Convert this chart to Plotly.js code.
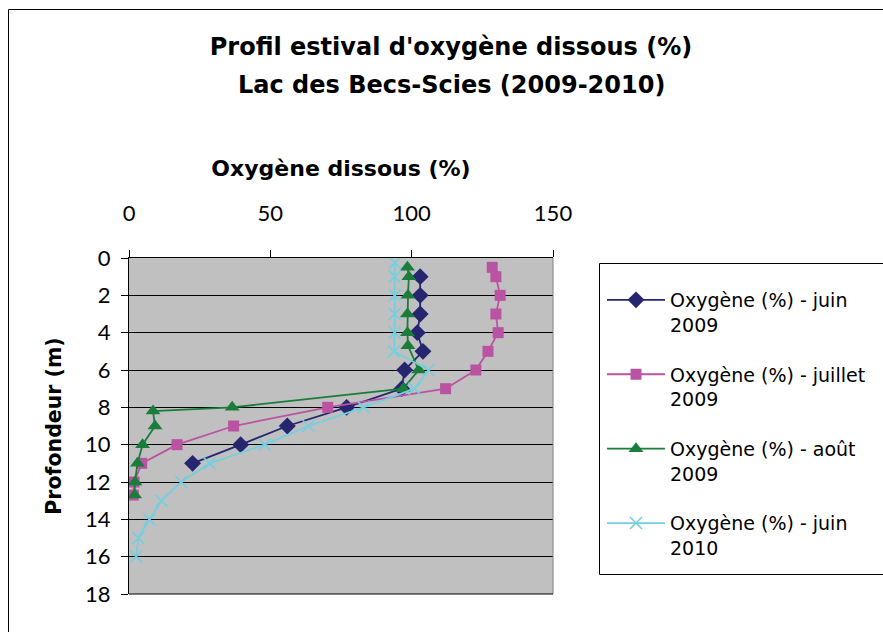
<!DOCTYPE html>
<html>
<head>
<meta charset="utf-8">
<script src="https://cdn.plot.ly/plotly-3.0.1.min.js"></script>
<style>html,body{margin:0;padding:0;background:#fff;}#chart{width:883px;height:632px;}</style>
</head>
<body>
<div id="chart"></div>
<script>
// Data
const depthJuin2009 = [1, 2, 3, 4, 5, 6, 7, 8, 9, 10, 11];
const o2Juin2009 = [103, 103, 103, 102, 104, 97.5, 96.5, 77, 56, 39.5, 22.5];

const depthJuillet2009 = [0.5, 1, 2, 3, 4, 5, 6, 7, 8, 9, 10, 11, 12, 12.7];
const o2Juillet2009 = [128.5, 129.8, 131.3, 129.8, 130.6, 127, 122.7, 112, 70.3, 37, 17, 4.5, 1.8, 1.5];

const depthAout2009 = [0.5, 1, 2, 3, 4, 4.7, 6, 7, 8, 8.2, 9, 10, 11, 12, 12.7];
const o2Aout2009 = [98.5, 99, 98.7, 98.5, 98.5, 98.7, 102.5, 97, 36.5, 8.5, 9.2, 4.8, 3, 2.1, 2];

const depthJuin2010 = [0.25, 1, 2, 3, 4, 5, 6, 7, 8, 9, 10, 11, 12, 13, 14, 15, 16];
const o2Juin2010 = [94, 94, 94, 94, 94, 93.7, 106, 101, 83, 63.5, 48, 28.5, 18.5, 11.5, 7.2, 3.3, 2.5];

const seriesNames = [
  "Oxygène (%) - juin<br>2009",
  "Oxygène (%) - juillet<br>2009",
  "Oxygène (%) - août<br>2009",
  "Oxygène (%) - juin<br>2010"
];
const titleLines = ["Profil estival d'oxygène dissous (%)", "Lac des Becs-Scies (2009-2010)"];
const xTicks = [0, 50, 100, 150];
const yTicks = [0, 2, 4, 6, 8, 10, 12, 14, 16, 18];

const FONT = "'DejaVu Sans', sans-serif";
const TICKFONT = "Lato, 'DejaVu Sans', sans-serif";
const colors = ["#25266f", "#b953a2", "#1a7d3b", "#74cfe0"];

const traces = [
  {x: o2Juin2009, y: depthJuin2009, name: seriesNames[0], legendgroup: "a",
   mode: "lines+markers", line: {color: colors[0], width: 1.8},
   marker: {symbol: "diamond", size: 13, color: colors[0]}},
  {x: o2Juillet2009, y: depthJuillet2009, name: seriesNames[1], legendgroup: "b",
   mode: "lines+markers", line: {color: colors[1], width: 1.8},
   marker: {symbol: "square", size: 11, color: colors[1]}},
  {x: o2Aout2009, y: depthAout2009, name: seriesNames[2], legendgroup: "c",
   mode: "lines+markers", line: {color: colors[2], width: 1.8},
   marker: {symbol: "triangle-up", size: 13, color: colors[2]}},
  {x: o2Juin2010, y: depthJuin2010, name: seriesNames[3], legendgroup: "d",
   mode: "lines+markers", line: {color: colors[3], width: 1.8},
   marker: {symbol: "x-thin", size: 12, color: colors[3], line: {color: colors[3], width: 1.6}}}
];

// pixel -> paper helpers (plot area 129..553 x, 258..594 y)
const L = 129, R = 553, T = 258, B = 594;
const px = v => (v - L) / (R - L);
const py = v => (B - v) / (B - T);

const layout = {
  width: 883, height: 632,
  margin: {l: L, r: 883 - R, t: T, b: 632 - B},
  paper_bgcolor: "#ffffff",
  plot_bgcolor: "#c0c0c0",
  font: {family: FONT, color: "#000"},
  showlegend: true,
  title: {
    text: "<b>" + titleLines[0] + "</b>",
    font: {family: FONT, size: 24, color: "#000"},
    xref: "container", yref: "container",
    x: 451 / 883, xanchor: "center",
    y: 1 - 47 / 632, yanchor: "middle"
  },
  annotations: [
    {text: "<b>" + titleLines[1] + "</b>", xref: "paper", yref: "paper",
     x: px(451), y: py(85), xanchor: "center", yanchor: "middle", showarrow: false,
     font: {family: FONT, size: 24, color: "#000"}}
  ],
  xaxis: {
    side: "top",
    range: [0, 150],
    tickvals: xTicks,
    ticks: "outside", ticklen: 7, tickcolor: "#000", tickwidth: 1,
    showgrid: false, zeroline: false,
    showline: true, linecolor: "#000", linewidth: 1,
    tickfont: {family: TICKFONT, size: 22, color: "#000"},
    ticklabelstandoff: 20,
    title: {text: "<b>Oxygène dissous (%)</b>", font: {family: FONT, size: 22, color: "#000"}, standoff: 16},
    fixedrange: true
  },
  yaxis: {
    range: [18, 0],
    tickvals: yTicks,
    ticks: "outside", ticklen: 7, tickcolor: "#000", tickwidth: 1,
    showgrid: true, gridcolor: "#000", gridwidth: 1,
    zeroline: false,
    showline: true, linecolor: "#000", linewidth: 1,
    tickfont: {family: TICKFONT, size: 22, color: "#000"},
    ticklabelstandoff: 6,
    title: {text: "<b>Profondeur (m)</b>", font: {family: FONT, size: 20.5, color: "#000"}, standoff: 17},
    fixedrange: true
  },
  legend: {
    x: px(602), y: py(281), xanchor: "left", yanchor: "top",
    bgcolor: "rgba(0,0,0,0)", borderwidth: 0,
    font: {family: FONT, size: 19, color: "#000"},
    traceorder: "grouped", tracegroupgap: 22,
    valign: "top",
    itemwidth: 58
  },
  shapes: [
    {type: "line", xref: "paper", yref: "paper", x0: 1, x1: 1, y0: 0, y1: 1,
     line: {color: "#808080", width: 1}},
    {type: "line", xref: "paper", yref: "paper", x0: 0, x1: 1, y0: 0, y1: 0,
     line: {color: "#000", width: 1}},
    {type: "rect", xref: "paper", yref: "paper",
     x0: px(599.5), x1: px(900), y0: py(574.5), y1: py(263.5),
     line: {color: "#000", width: 1}, fillcolor: "rgba(0,0,0,0)"},
    {type: "rect", xref: "paper", yref: "paper",
     x0: px(8.5), x1: px(900), y0: py(650), y1: py(9.5),
     line: {color: "#000", width: 1}, fillcolor: "rgba(0,0,0,0)", layer: "below"}
  ]
};

Plotly.newPlot("chart", traces, layout, {displayModeBar: false, staticPlot: true});
</script>
</body>
</html>
